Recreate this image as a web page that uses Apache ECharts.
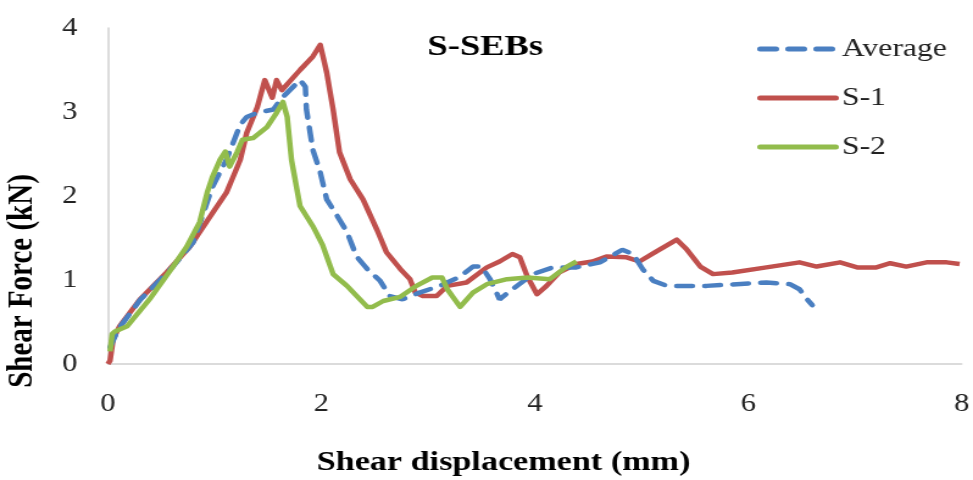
<!DOCTYPE html>
<html>
<head>
<meta charset="utf-8">
<script src="https://cdn.jsdelivr.net/npm/echarts@6/dist/echarts.min.js"></script>
<style>
  html, body { margin: 0; padding: 0; background: #fff; overflow: hidden; }
  /* the source figure is stretched sideways, so the chart is drawn narrower and scaled */
  #chart { width: 798px; height: 480px; transform: scaleX(1.2193); transform-origin: 0 0; }
</style>
</head>
<body>
<div id="chart"></div>
<script>
// 剪切位移 - 剪力 曲线 (S-SEBs)
var seriesNames = ['Average', 'S-1', 'S-2'];
var xTicks = [0, 2, 4, 6, 8];
var yTicks = [0, 1, 2, 3, 4];

// S-1
var xS1 = [0, 0.02, 0.05, 0.11, 0.30, 0.55, 0.77, 0.96, 1.11, 1.24, 1.30, 1.40, 1.47, 1.54, 1.58, 1.63, 1.80, 1.92, 1.99,
  2.05, 2.11, 2.17, 2.27, 2.39, 2.52, 2.61, 2.74, 2.83, 2.88, 2.95, 3.08, 3.18, 3.36, 3.55, 3.67, 3.79, 3.86, 3.93, 4.02,
  4.11, 4.23, 4.39, 4.54, 4.67, 4.86, 4.98, 5.14, 5.33, 5.42, 5.55, 5.67, 5.85, 6.17, 6.48, 6.64, 6.86, 7.02, 7.20, 7.33,
  7.48, 7.67, 7.86, 7.98];
var yS1 = [0, 0.04, 0.30, 0.45, 0.77, 1.09, 1.40, 1.76, 2.04, 2.43, 2.75, 3.06, 3.38, 3.17, 3.38, 3.26, 3.50, 3.66, 3.80,
  3.47, 3.03, 2.52, 2.20, 1.96, 1.60, 1.33, 1.13, 1.01, 0.85, 0.81, 0.81, 0.93, 0.97, 1.15, 1.22, 1.31, 1.27, 1.04, 0.83,
  0.93, 1.09, 1.19, 1.22, 1.28, 1.27, 1.22, 1.34, 1.48, 1.37, 1.16, 1.07, 1.09, 1.15, 1.21, 1.16, 1.21, 1.15, 1.15, 1.20,
  1.16, 1.21, 1.21, 1.19];

// S-2
var xS2 = [0.02, 0.04, 0.07, 0.18, 0.39, 0.61, 0.74, 0.86, 0.93, 0.98, 1.05, 1.10, 1.14, 1.21, 1.26, 1.36, 1.49, 1.58, 1.64,
  1.68, 1.72, 1.80, 1.92, 2.01, 2.11, 2.24, 2.33, 2.43, 2.48, 2.58, 2.74, 2.89, 3.04, 3.13, 3.18, 3.30, 3.42, 3.55, 3.74,
  3.93, 4.14, 4.30, 4.39];
var yS2 = [0.15, 0.36, 0.39, 0.45, 0.77, 1.16, 1.40, 1.69, 2.04, 2.23, 2.43, 2.53, 2.35, 2.52, 2.67, 2.69, 2.82, 2.99, 3.12,
  2.94, 2.43, 1.88, 1.64, 1.42, 1.07, 0.93, 0.81, 0.68, 0.68, 0.75, 0.80, 0.93, 1.03, 1.03, 0.89, 0.68, 0.85, 0.95, 1.01,
  1.03, 1.01, 1.16, 1.22];

// Average
var xAvg = [0.02, 0.10, 0.30, 0.61, 0.80, 0.98, 1.11, 1.24, 1.30, 1.40, 1.55, 1.64, 1.80, 1.85, 1.86, 1.92, 1.99, 2.05, 2.15,
  2.24, 2.33, 2.43, 2.55, 2.64, 2.76, 2.92, 3.11, 3.30, 3.42, 3.50, 3.58, 3.67, 3.79, 3.98, 4.17, 4.39, 4.61, 4.82, 4.92,
  5.01, 5.11, 5.24, 5.61, 6.17, 6.39, 6.48, 6.55, 6.60];
var yAvg = [0.20, 0.42, 0.76, 1.16, 1.45, 2.11, 2.43, 2.85, 2.94, 2.99, 3.03, 3.18, 3.38, 3.30, 3.03, 2.55, 2.28, 1.96, 1.76,
  1.57, 1.28, 1.13, 0.99, 0.81, 0.77, 0.85, 0.93, 1.04, 1.16, 1.16, 1.01, 0.77, 0.89, 1.07, 1.15, 1.15, 1.21, 1.36, 1.31,
  1.13, 0.99, 0.93, 0.93, 0.97, 0.95, 0.89, 0.77, 0.70];

function pairs(xs, ys) {
  return xs.map(function (x, i) { return [x, ys[i]]; });
}

var font = '"Liberation Serif", "DejaVu Serif", serif';
var myChart = echarts.init(document.getElementById('chart'));
myChart.setOption({
  animation: false,
  grid: { left: 88.5, right: 9, top: 28, bottom: 116 },
  title: {
    text: 'S-SEBs',
    left: 393,
    top: 27,
    textAlign: 'center',
    textStyle: { fontFamily: font, fontSize: 30, fontWeight: 'bold', color: '#000' }
  },
  legend: {
    orient: 'vertical',
    left: 616,
    top: 31,
    itemWidth: 62,
    itemHeight: 14,
    itemGap: 23,
    data: seriesNames,
    itemStyle: { color: 'rgba(0,0,0,0)', borderWidth: 0 },
    lineStyle: { width: 5, cap: 'round' },
    textStyle: { fontFamily: font, fontSize: 26, lineHeight: 26, color: '#222' }
  },
  xAxis: {
    type: 'value',
    min: xTicks[0],
    max: xTicks[xTicks.length - 1],
    interval: 2,
    axisLine: { lineStyle: { color: '#d0d0d0', width: 1.5 } },
    axisTick: { show: false },
    splitLine: { show: false },
    axisLabel: { fontFamily: font, fontSize: 25, color: '#222', margin: 28 }
  },
  yAxis: {
    type: 'value',
    min: yTicks[0],
    max: yTicks[yTicks.length - 1],
    interval: 1,
    axisLine: { show: true, lineStyle: { color: '#d0d0d0', width: 1.5 } },
    axisTick: { show: false },
    splitLine: { show: false },
    axisLabel: { fontFamily: font, fontSize: 25, color: '#222', margin: 25 }
  },
  graphic: [
    {
      type: 'text',
      x: 413, y: 463,
      style: {
        text: 'Shear displacement (mm)', fontFamily: font, fontSize: 28, fontWeight: 'bold', fill: '#000',
        align: 'center', verticalAlign: 'middle'
      }
    },
    {
      type: 'text',
      x: 19, y: 281,
      rotation: Math.PI / 2,
      style: {
        text: 'Shear Force (kN)', fontFamily: font, fontSize: 29, fontWeight: 'bold', fill: '#000',
        align: 'center', verticalAlign: 'middle'
      }
    }
  ],
  series: [
    {
      name: seriesNames[0],
      type: 'line',
      data: pairs(xAvg, yAvg),
      symbol: 'none',
      z: 3,
      lineStyle: { color: '#4a7fc1', width: 4.5, type: [13, 10], cap: 'round' },
      itemStyle: { color: '#4a7fc1' }
    },
    {
      name: seriesNames[1],
      type: 'line',
      data: pairs(xS1, yS1),
      symbol: 'none',
      z: 2,
      lineStyle: { color: '#c0504d', width: 4.5, join: 'round' },
      itemStyle: { color: '#c0504d' }
    },
    {
      name: seriesNames[2],
      type: 'line',
      data: pairs(xS2, yS2),
      symbol: 'none',
      z: 4,
      lineStyle: { color: '#92bc4c', width: 4.5, join: 'round' },
      itemStyle: { color: '#92bc4c' }
    }
  ]
});
</script>
</body>
</html>
